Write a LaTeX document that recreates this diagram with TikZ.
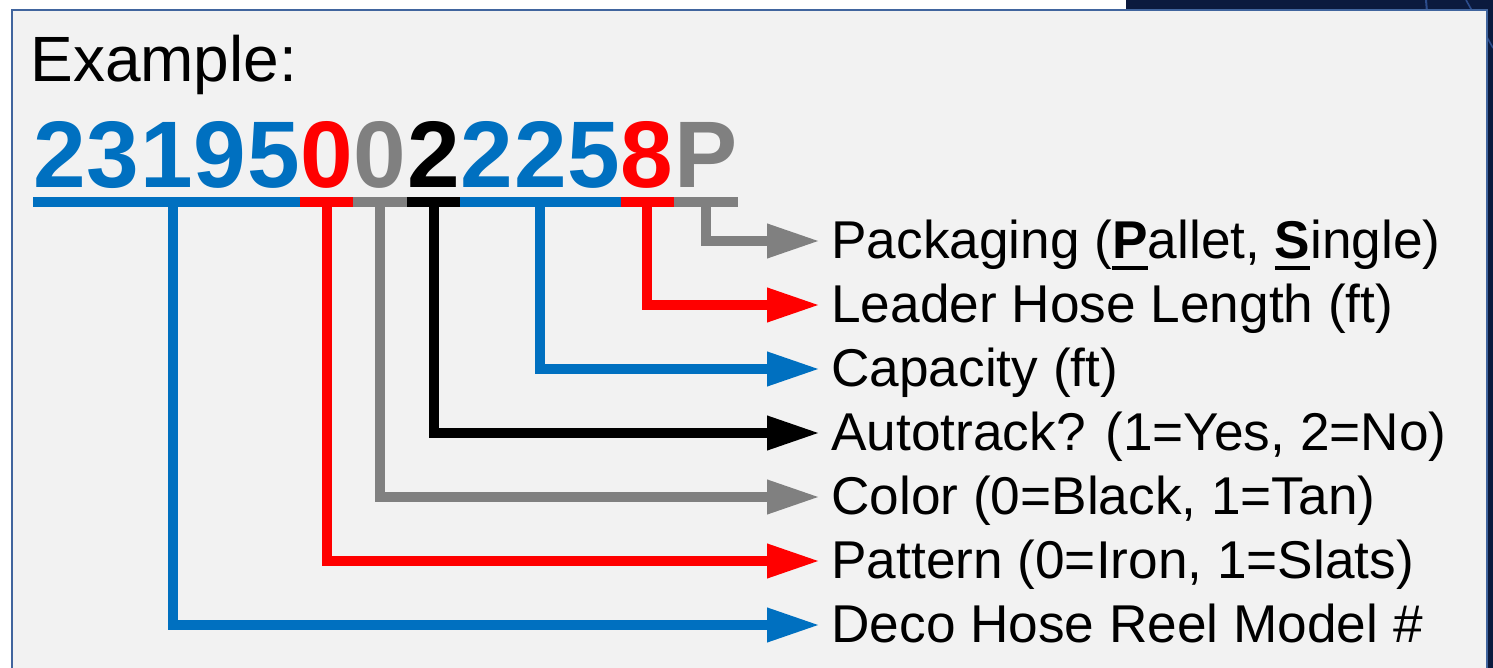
\documentclass[tikz,border=0pt]{standalone}
\usepackage{fontspec}
\setmainfont{Liberation Sans}
\usetikzlibrary{arrows.meta}

\definecolor{codeblue}{HTML}{0070C0}
\definecolor{codered}{HTML}{FF0000}
\definecolor{codegray}{HTML}{808080}
\definecolor{panelfill}{HTML}{F2F2F2}
\definecolor{paneledge}{HTML}{41659E}
\definecolor{slidebg}{HTML}{0B1A3E}
\definecolor{slidestreak}{HTML}{2C4C8C}

% bold, underlined key letter
\newcommand{\keyletter}[1]{\setbox0\hbox{\textbf{#1}}\rlap{\rule[-6pt]{\wd0}{2pt}}\box0}

\tikzset{
  digit/.style={font=\fontsize{47.3}{48}\selectfont\bfseries, inner sep=0pt, anchor=base west},
  field/.style={font=\fontsize{26.6}{30}\selectfont, inner sep=0pt, text height=17pt, text depth=0pt, anchor=west},
  codebar/.style={line width=5pt, line cap=butt},
  pointer/.style={line width=5pt, line join=miter, shorten >=5.5pt, -{Triangle[length=26.5pt,width=16pt]}},
}

\begin{document}
\begin{tikzpicture}[x=0.5pt, y=-0.5pt]
    \useasboundingbox (0,0) rectangle (1493,668);

    % Slide background
    \fill[white] (0,0) rectangle (1493,668);
    \fill[slidebg] (1126,0) rectangle (1493,668);
    \draw[slidestreak, line width=1pt] (1426,0) -- (1427,12);
    \draw[slidestreak, line width=0.8pt] (1466,0) -- (1493,48);

    % Panel
    \filldraw[fill=panelfill, draw=paneledge, line width=1pt] (12,10) rectangle (1487,690);

    % Title
    \node[font=\fontsize{32}{32}\selectfont, inner sep=0pt, anchor=base west] (title) at (30,82) {Example:};

    % Part number
    \node[digit, codeblue] (d1) at (33,188) {2};
    \node[digit, codeblue] (d2) at (d1.base east) {3};
    \node[digit, codeblue] (d3) at (d2.base east) {1};
    \node[digit, codeblue] (d4) at (d3.base east) {9};
    \node[digit, codeblue] (d5) at (d4.base east) {5};
    \node[digit, codered] (d6) at (d5.base east) {0};
    \node[digit, codegray] (d7) at (d6.base east) {0};
    \node[digit] (d8) at (d7.base east) {2};
    \node[digit, codeblue] (d9) at (d8.base east) {2};
    \node[digit, codeblue] (d10) at (d9.base east) {2};
    \node[digit, codeblue] (d11) at (d10.base east) {5};
    \node[digit, codered] (d12) at (d11.base east) {8};
    \node[digit, codegray] (d13) at (d12.base east) {P};
    \coordinate (barL) at (33,202);

    % Field labels
    \node[field] (pack) at (831,241) {Packaging (\keyletter{P}allet, \keyletter{S}ingle)};
    \node[field] (lead) at (831,305) {Leader Hose Length (ft)};
    \node[field] (capa) at (831,369) {Capacity (ft)};
    \node[field] (auto) at (831,433) {Autotrack? (1=Yes, 2=No)};
    \node[field] (colr) at (831,497) {Color (0=Black, 1=Tan)};
    \node[field] (patt) at (831,561) {Pattern (0=Iron, 1=Slats)};
    \node[field] (model) at (831,625) {Deco Hose Reel Model \#};

    % Pointers
    \draw[pointer, codegray] (d13 |- barL) |- (pack.west);
    \draw[pointer, codered] (d12 |- barL) |- (lead.west);
    \draw[pointer, codeblue] (d10 |- barL) |- (capa.west);
    \draw[pointer] (d8 |- barL) |- (auto.west);
    \draw[pointer, codegray] (d7 |- barL) |- (colr.west);
    \draw[pointer, codered] (d6 |- barL) |- (patt.west);
    \draw[pointer, codeblue] ([xshift=3pt]d3 |- barL) |- (model.west);

    % Underline bar
    \draw[codebar, codeblue] (d1.west |- barL) -- (d5.east |- barL);
    \draw[codebar, codered] (d6.west |- barL) -- (d6.east |- barL);
    \draw[codebar, codegray] (d7.west |- barL) -- (d7.east |- barL);
    \draw[codebar] (d8.west |- barL) -- (d8.east |- barL);
    \draw[codebar, codeblue] (d9.west |- barL) -- (d11.east |- barL);
    \draw[codebar, codered] (d12.west |- barL) -- (d12.east |- barL);
    \draw[codebar, codegray] (d13.west |- barL) -- (d13.east |- barL);
\end{tikzpicture}
\end{document}
